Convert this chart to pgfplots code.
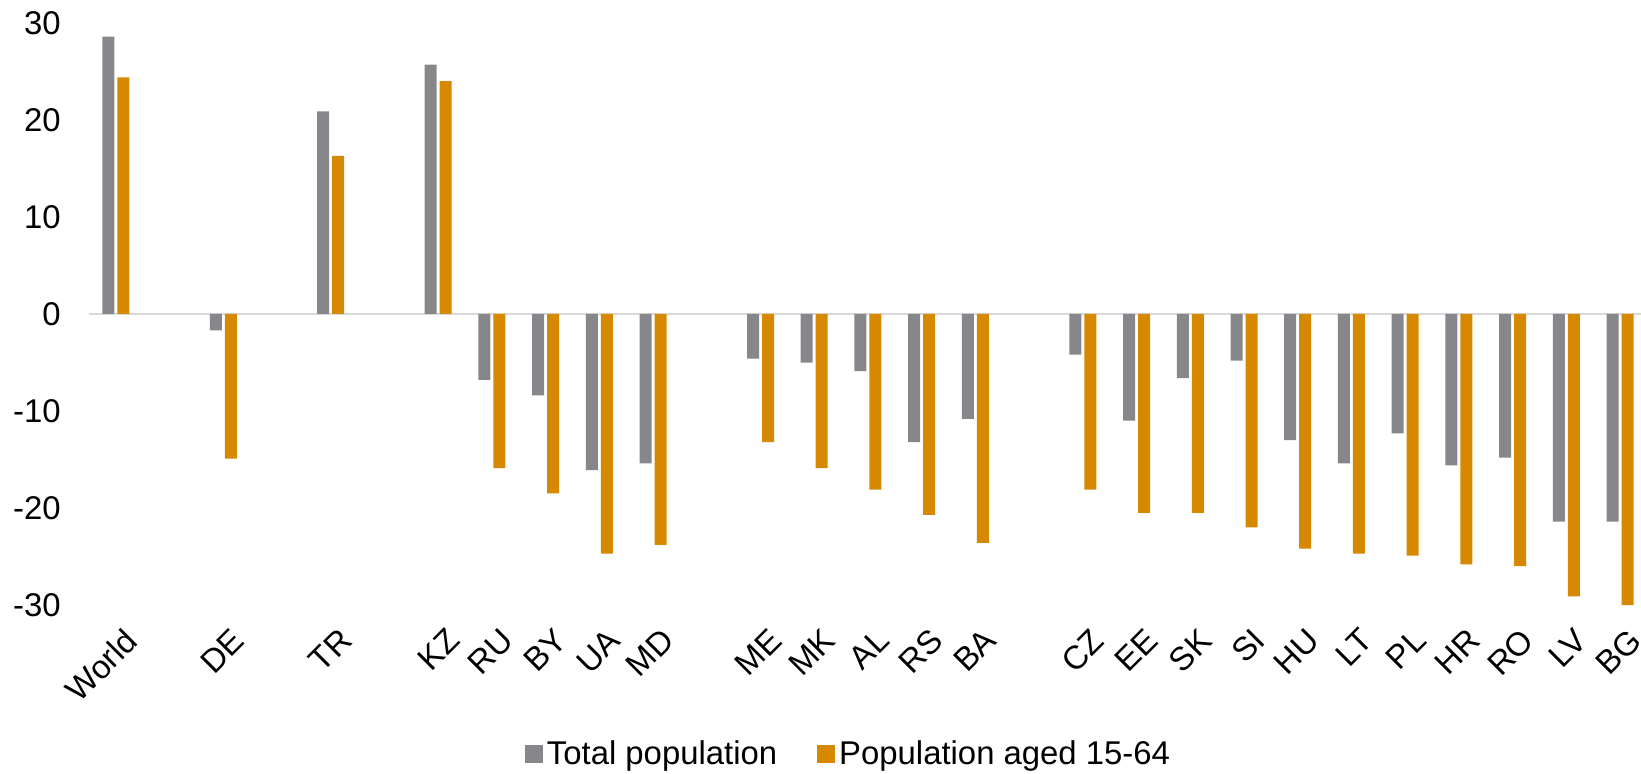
\documentclass[border=0pt]{standalone}
\usepackage{pgfplots}
\pgfplotsset{compat=1.18}
\usepackage{pgfplotstable}
\usepackage{fontspec}
\setmainfont{Liberation Sans}

\definecolor{totgray}{RGB}{135,134,139}
\definecolor{agedorange}{RGB}{214,137,0}
\definecolor{zeroline}{RGB}{217,217,217}

% x = slot position (gaps between country groups)
\pgfplotstableread{
x    total  aged
0    28.6   24.4
2    -1.7  -14.9
4    20.9   16.3
6    25.7   24.0
7    -6.8  -15.9
8    -8.4  -18.5
9   -16.1  -24.7
10  -15.4  -23.8
12   -4.6  -13.2
13   -5.0  -15.9
14   -5.9  -18.1
15  -13.2  -20.7
16  -10.8  -23.6
18   -4.2  -18.1
19  -11.0  -20.5
20   -6.6  -20.5
21   -4.8  -22.0
22  -13.0  -24.2
23  -15.4  -24.7
24  -12.3  -24.9
25  -15.6  -25.8
26  -14.8  -26.0
27  -21.4  -29.1
28  -21.4  -30.0
}\popdata

\begin{document}
\begin{tikzpicture}
\useasboundingbox (-44.5bp,-84.5bp) rectangle (776bp,302.5bp);
\begin{axis}[
  at={(0,0)}, anchor=south west,
  scale only axis, width=776bp, height=291bp,
  xmin=-0.5, xmax=28.39, ymin=-30, ymax=30,
  ybar=1.5bp, bar width=6bp,
  axis line style={draw=none},
  major tick length=0pt,
  ytick={-30,-20,...,30},
  xtick={0,2,4,6,7,8,9,10,12,13,14,15,16,18,19,20,21,22,23,24,25,26,27,28},
  xticklabels={World,DE,TR,KZ,RU,BY,UA,MD,ME,MK,AL,RS,BA,CZ,EE,SK,SI,HU,LT,PL,HR,RO,LV,BG},
  xticklabel style={rotate=45, anchor=north east, inner sep=0pt, xshift=-5bp, yshift=-10bp},
  yticklabel style={anchor=east, inner sep=0pt, xshift=-14bp},
  /pgf/number format/assume math mode=true,
  ticklabel style={font=\fontsize{16.5}{19}\selectfont},
  legend style={at={(0.49,-0.256)}, anchor=center, draw=none,
    font=\fontsize{16.5}{19}\selectfont, legend columns=-1,
    /tikz/every even column/.append style={column sep=18bp}},
  legend image code/.code={\fill[#1] (0bp,-4.5bp) rectangle (9bp,4.5bp);},
  clip=false,
]
\draw[zeroline, line width=1bp] (axis cs:-0.5,0) -- (axis cs:28.39,0);
\addplot[fill=totgray, draw=none] table[x=x, y=total] {\popdata};
\addplot[fill=agedorange, draw=none] table[x=x, y=aged] {\popdata};
\legend{Total population, Population aged 15-64}
\end{axis}
\end{tikzpicture}
\end{document}
